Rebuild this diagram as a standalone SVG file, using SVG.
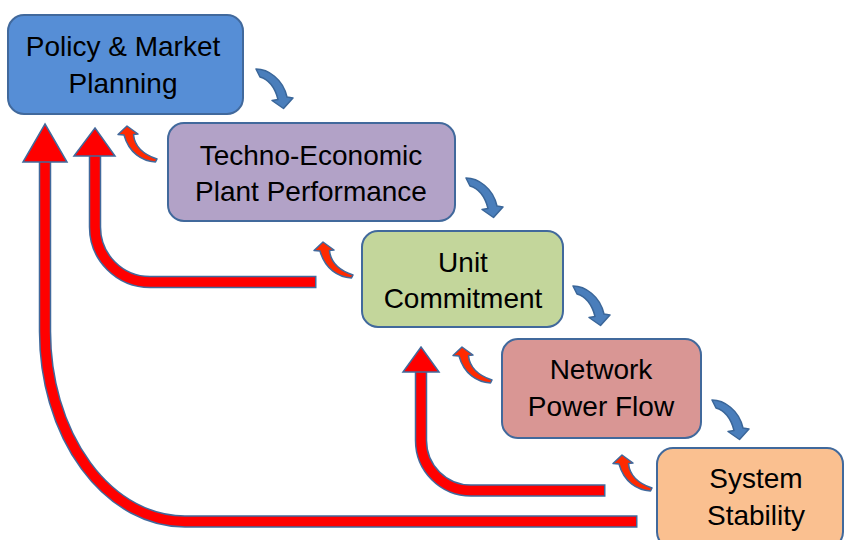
<svg xmlns="http://www.w3.org/2000/svg" xmlns:xlink="http://www.w3.org/1999/xlink" width="845" height="540" viewBox="0 0 845 540">
<style>
.box{stroke:#41699C;stroke-width:2}
.lbl{font-family:"Liberation Sans",Arial,sans-serif;font-size:28px;fill:#000;text-anchor:middle}
.rout{fill:none;stroke:#41699C;stroke-width:12.5}
.rin{fill:none;stroke:#FF0000;stroke-width:9.5}
.head{fill:#FF0000;stroke:#41699C;stroke-width:1.5;stroke-linejoin:miter}
.blue{fill:#4A7EBB;stroke:#3A6699;stroke-width:1.5;stroke-linejoin:round}
.small{fill:#FF2A00;stroke:#41699C;stroke-width:1.5;stroke-linejoin:round}
</style>
<defs>
<path id="barrow" d="M0,0 C12,0 27,10 31,28 L37,29 L27.5,39.5 L16,31.5 L22,30.5 C19,18 12,10 4,8 Z"/>
<path id="sarrow" d="M0,0 L11,8 L6.5,8.5 C7.5,19 15,28 30,33 L28.5,36 C15,35 2,27 -3,9 L-9,8.5 Z"/>
</defs>
<g id="connectors">
<g id="feedback-big">
<path class="rout" d="M637.5,521.5 L185,521.5 A140 190 0 0 1 45,331.5 L45,160"/>
<path class="rin" d="M636,521.5 L185,521.5 A140 190 0 0 1 45,331.5 L45,160"/>
<polygon class="head" points="45,124 67,162 23,162"/>
<path class="rout" d="M316.5,282 L150,282 A55 55 0 0 1 95,227 L95,154"/>
<path class="rin" d="M315,282 L150,282 A55 55 0 0 1 95,227 L95,154"/>
<polygon class="head" points="95,128 115,156 74,156"/>
<path class="rout" d="M605.5,490.5 L471,490.5 A50 50 0 0 1 421,440.5 L421,370"/>
<path class="rin" d="M604,490.5 L471,490.5 A50 50 0 0 1 421,440.5 L421,370"/>
<polygon class="head" points="421,347 439,372 403,372"/>
</g>
<g id="forward-arrows">
<use xlink:href="#barrow" class="blue" transform="translate(256,69)"/>
<use xlink:href="#barrow" class="blue" transform="translate(466,178)"/>
<use xlink:href="#barrow" class="blue" transform="translate(573,286)"/>
<use xlink:href="#barrow" class="blue" transform="translate(712,400)"/>
</g>
<g id="feedback-small">
<use xlink:href="#sarrow" class="small" transform="translate(127,126)"/>
<use xlink:href="#sarrow" class="small" transform="translate(323,242)"/>
<use xlink:href="#sarrow" class="small" transform="translate(462,347)"/>
<use xlink:href="#sarrow" class="small" transform="translate(622,455)"/>
</g>
</g>
<g id="policy">
<rect class="box" x="8" y="15" width="235" height="99" rx="16" fill="#568ED6"/>
<text class="lbl" x="123" y="56">Policy &amp; Market</text>
<text class="lbl" x="123" y="93">Planning</text>
</g>
<g id="techno">
<rect class="box" x="168" y="123" width="287" height="98" rx="16" fill="#B2A2C7"/>
<text class="lbl" x="311" y="165">Techno-Economic</text>
<text class="lbl" x="311" y="201">Plant Performance</text>
</g>
<g id="unit">
<rect class="box" x="362" y="231" width="201" height="96" rx="16" fill="#C3D69B"/>
<text class="lbl" x="463" y="272">Unit</text>
<text class="lbl" x="463" y="308">Commitment</text>
</g>
<g id="network">
<rect class="box" x="502" y="339" width="199" height="99" rx="16" fill="#D99694"/>
<text class="lbl" x="601" y="379">Network</text>
<text class="lbl" x="601" y="416">Power Flow</text>
</g>
<g id="stability">
<rect class="box" x="657" y="448" width="186" height="100" rx="16" fill="#FAC090"/>
<text class="lbl" x="756" y="488">System</text>
<text class="lbl" x="756" y="525">Stability</text>
</g>
</svg>
